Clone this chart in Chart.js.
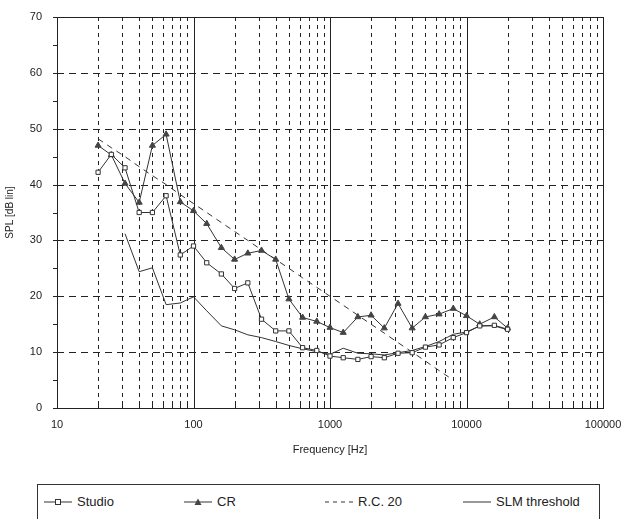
<!DOCTYPE html>
<html>
<head>
<meta charset="utf-8">
<script src="https://cdn.jsdelivr.net/npm/chart.js@4"></script>
<style>
  body { margin: 0; background: #fff; font-family: "Liberation Sans", Arial, sans-serif; }
  #wrap { position: relative; width: 642px; height: 460px; }
  #legend { position: absolute; left: 37px; top: 484px; width: 563px; height: 36px;
            border: 1px solid #333; box-sizing: border-box; font-size: 13px; color: #222; }
  .item { position: absolute; top: 9px; display: flex; align-items: center; }
  .item svg { margin-right: 5px; }
</style>
</head>
<body>
<div id="wrap"><canvas id="spl"></canvas></div>
<div id="legend">
  <div class="item" style="left:6px"><svg width="28" height="10"><line x1="0" y1="5" x2="28" y2="5" stroke="#333"/><rect x="11.5" y="2.5" width="5" height="5" fill="#fff" stroke="#333"/></svg>Studio</div>
  <div class="item" style="left:146px"><svg width="28" height="10"><line x1="0" y1="5" x2="28" y2="5" stroke="#333"/><polygon points="14,1.5 17.5,8 10.5,8" fill="#444"/></svg>CR</div>
  <div class="item" style="left:287px"><svg width="28" height="10"><line x1="0" y1="5" x2="28" y2="5" stroke="#333" stroke-dasharray="4,4"/></svg>R.C. 20</div>
  <div class="item" style="left:425px"><svg width="28" height="10"><line x1="0" y1="5" x2="28" y2="5" stroke="#333"/></svg>SLM threshold</div>
</div>
<script>
document.addEventListener("DOMContentLoaded", function() {
    // third-octave band centres
    const freqs = [20, 25, 31.5, 40, 50, 63, 80, 100, 125, 160, 200, 250, 315, 400, 500, 630, 800,
                   1000, 1250, 1600, 2000, 2500, 3150, 4000, 5000, 6300, 8000, 10000, 12500, 16000, 20000];

    const studio = [42.2, 45.4, 43.0, 35.0, 35.0, 38.0, 27.4, 29.0, 26.0, 24.0, 21.4, 22.4, 15.9, 13.8, 13.8, 10.8, 10.3,
                    9.3, 9.0, 8.7, 9.2, 9.0, 9.8, 9.9, 10.9, 11.3, 12.6, 13.5, 14.7, 14.8, 14.1];

    const cr = [47.0, 45.3, 40.2, 36.8, 47.0, 49.0, 36.9, 35.3, 33.0, 28.7, 26.6, 27.7, 28.2, 26.6, 19.5, 16.2, 15.5,
                14.4, 13.5, 16.3, 16.6, 14.3, 18.7, 14.3, 16.3, 16.8, 17.8, 16.5, 15.0, 16.3, 14.3];

    // R.C. 20 curve, 20 Hz .. 8 kHz
    const rc20 = [48.2, 46.6, 45.0, 43.2, 41.6, 40.0, 38.2, 36.6, 35.0, 33.2, 31.6, 30.0, 28.3, 26.6, 25.0, 23.3, 21.6,
                  20.0, 18.4, 16.6, 15.0, 13.4, 11.7, 10.0, 8.4, 6.7, 5.0, null, null, null, null];

    // SLM threshold starts at 31.5 Hz
    const slm = [null, null, 31.2, 24.4, 25.1, 18.5, 18.8, 19.9, 17.4, 14.7, 14.0, 13.1, 12.6, 11.9, 11.2, 10.6, 10.1,
                 9.6, 10.7, 9.8, 9.7, 9.5, 9.9, 10.3, 11.0, 11.9, 13.2, 13.6, 14.7, 14.7, 14.0];

    const decades = [10, 100, 1000, 10000, 100000];
    const yTicks = [0, 10, 20, 30, 40, 50, 60, 70];

    function pts(vals) {
        return freqs.map(function(f, i) { return { x: f, y: vals[i] }; });
    }

    // grid drawn by hand: dashed minor lines, solid decade lines
    const gridPlugin = {
        id: "grid",
        beforeDatasetsDraw: function(chart) {
            const c = chart.ctx, a = chart.chartArea;
            const xs = chart.scales.x, ys = chart.scales.y;
            c.save();
            c.strokeStyle = "#222";
            c.lineWidth = 1;
            for (let d = 10; d < 100000; d *= 10) {
                for (let k = 1; k < 10; k++) {
                    const px = Math.round(xs.getPixelForValue(d * k)) + 0.5;
                    c.setLineDash(k === 1 ? [] : [4, 4]);
                    if (d === 10 && k === 1) continue;
                    c.beginPath(); c.moveTo(px, a.top); c.lineTo(px, a.bottom); c.stroke();
                    // small ticks on the bottom axis
                    c.setLineDash([]);
                    c.beginPath(); c.moveTo(px, a.bottom); c.lineTo(px, a.bottom - 4); c.stroke();
                }
            }
            c.setLineDash([7, 5]);
            yTicks.slice(1, -1).forEach(function(v) {
                const py = Math.round(ys.getPixelForValue(v)) + 0.5;
                c.beginPath(); c.moveTo(a.left, py); c.lineTo(a.right, py); c.stroke();
            });
            c.setLineDash([]);
            // minor y ticks at every 5 and major ticks
            for (let v = 0; v <= 70; v += 5) {
                const py = Math.round(ys.getPixelForValue(v)) + 0.5;
                c.beginPath(); c.moveTo(a.left - 4, py); c.lineTo(a.left, py); c.stroke();
            }
            c.strokeRect(Math.round(a.left) + 0.5, Math.round(a.top) + 0.5,
                         Math.round(a.right - a.left), Math.round(a.bottom - a.top));
            c.restore();
        }
    };

    const data = {
        datasets: [{
            label: "Studio",
            data: pts(studio),
            borderColor: "#333",
            borderWidth: 1,
            pointStyle: "rect",
            pointRadius: 3,
            pointBackgroundColor: "#fff",
            pointBorderColor: "#333",
            pointBorderWidth: 1
        }, {
            label: "CR",
            data: pts(cr),
            borderColor: "#333",
            borderWidth: 1,
            pointStyle: "triangle",
            pointRadius: 3.5,
            pointBackgroundColor: "#444",
            pointBorderColor: "#444"
        }, {
            label: "R.C. 20",
            data: pts(rc20),
            borderColor: "#333",
            borderWidth: 1,
            borderDash: [6, 5],
            pointRadius: 0
        }, {
            label: "SLM threshold",
            data: pts(slm),
            borderColor: "#333",
            borderWidth: 1,
            pointRadius: 0
        }]
    };

    const config = {
        type: "line",
        data: data,
        options: {
            responsive: false,
            animation: false,
            spanGaps: false,
            layout: { padding: { top: 17, right: 39, left: 0, bottom: 0 } },
            plugins: { legend: { display: false }, tooltip: { enabled: false } },
            scales: {
                x: {
                    type: "logarithmic",
                    min: 10, max: 100000,
                    grid: { display: false },
                    border: { display: false },
                    afterBuildTicks: function(s) { s.ticks = decades.map(function(v) { return { value: v }; }); },
                    afterFit: function(s) { s.height = 52; },
                    ticks: {
                        padding: 2, color: "#222", maxRotation: 0, autoSkip: false,
                        font: { family: "Liberation Sans", size: 11 },
                        callback: function(v) { return String(v); }
                    },
                    title: { display: true, text: "Frequency [Hz]", color: "#222",
                             font: { family: "Liberation Sans", size: 11 }, padding: 3 }
                },
                y: {
                    min: 0, max: 70,
                    grid: { display: false },
                    border: { display: false },
                    afterBuildTicks: function(s) { s.ticks = yTicks.map(function(v) { return { value: v }; }); },
                    afterFit: function(s) { s.width = 57; },
                    ticks: { padding: 7, color: "#222", font: { family: "Liberation Sans", size: 11 } },
                    title: { display: true, text: "SPL [dB lin]", color: "#222",
                             font: { family: "Liberation Sans", size: 10 }, padding: 4 }
                }
            }
        },
        plugins: [gridPlugin]
    };

    const canvas = document.getElementById("spl");
    canvas.width = 642;
    canvas.height = 460;
    new Chart(canvas.getContext("2d"), config);
});
</script>
</body>
</html>
